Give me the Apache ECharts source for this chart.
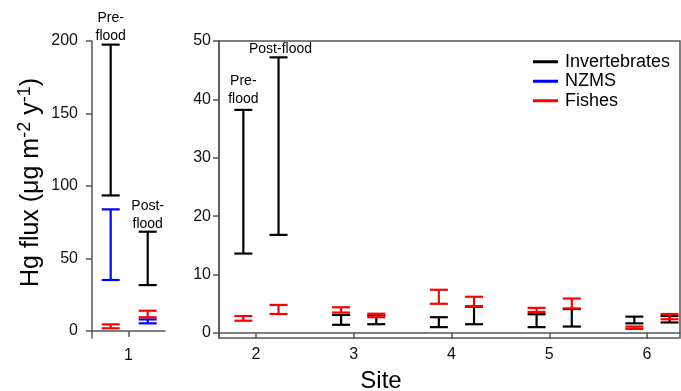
<!DOCTYPE html>
<html>
<head>
<meta charset="utf-8">
<script src="https://cdn.jsdelivr.net/npm/echarts@6/dist/echarts.min.js"></script>
<style>
  html, body { margin: 0; padding: 0; background: #fff; }
  #chart { width: 681px; height: 391px; }
</style>
</head>
<body>
<div id="chart"></div>
<script>
// sites (site 1 in the left panel, 2-6 in the right one)
const sites = [1, 2, 3, 4, 5, 6];

// Invertebrates, pre- and post-flood ranges
const invPreLow   = [93.5, 13.6, 1.4, 1.0, 1.0, 1.65];
const invPreHigh  = [197.5, 38.2, 3.1, 2.7, 3.2, 2.8];
const invPostLow  = [31.7, 16.8, 1.5, 1.5, 1.1, 1.8];
const invPostHigh = [68.5, 47.2, 3.0, 4.5, 4.1, 2.9];

// NZMS, site 1 only
const nzmsPreLow   = [35.2];
const nzmsPreHigh  = [83.9];
const nzmsPostLow  = [5.3];
const nzmsPostHigh = [8.0];

// Fishes
const fishPreLow   = [1.9, 2.1, 3.5, 5.0, 3.6, 0.7];
const fishPreHigh  = [4.6, 2.9, 4.4, 7.4, 4.3, 1.1];
const fishPostLow  = [9.5, 3.25, 2.7, 4.6, 4.2, 2.35];
const fishPostHigh = [14, 4.8, 3.3, 6.2, 5.9, 3.25];

// tick labels
const leftTicks = [0, 50, 100, 150, 200];
const rightTicks = [0, 10, 20, 30, 40, 50];
const siteTicks = [2, 3, 4, 5, 6];

const FONT = 'Liberation Sans, Arial, sans-serif';
const AXIS_COLOR = '#555';

// pre/post horizontal shift per panel
const shift = [
  { pre: -0.244, post: 0.263 },
  { pre: -0.13, post: 0.23 }
];

function errBar(color) {
  return function (params, api) {
    const x = api.value(0);
    const lo = api.coord([x, api.value(1)]);
    const hi = api.coord([x, api.value(2)]);
    const w = 9;
    const st = { stroke: color, lineWidth: 2.2 };
    return {
      type: 'group',
      children: [
        { type: 'line', shape: { x1: lo[0], y1: lo[1], x2: hi[0], y2: hi[1] }, style: st },
        { type: 'line', shape: { x1: hi[0] - w, y1: hi[1], x2: hi[0] + w, y2: hi[1] }, style: st },
        { type: 'line', shape: { x1: lo[0] - w, y1: lo[1], x2: lo[0] + w, y2: lo[1] }, style: st }
      ]
    };
  };
}

function makeData(panel, lows, highs, when) {
  const out = [];
  lows.forEach(function (v, i) {
    const s = sites[i];
    const p = s === 1 ? 0 : 1;
    if (p !== panel) return;
    out.push([s + shift[p][when], v, highs[i]]);
  });
  return out;
}

const taxa = [
  { name: 'Invertebrates', color: '#000000', pre: [invPreLow, invPreHigh], post: [invPostLow, invPostHigh] },
  { name: 'NZMS', color: '#0000ff', pre: [nzmsPreLow, nzmsPreHigh], post: [nzmsPostLow, nzmsPostHigh] },
  { name: 'Fishes', color: '#ff0000', pre: [fishPreLow, fishPreHigh], post: [fishPostLow, fishPostHigh] }
];

const series = [];
taxa.forEach(function (t) {
  [0, 1].forEach(function (panel) {
    const data = makeData(panel, t.pre[0], t.pre[1], 'pre')
      .concat(makeData(panel, t.post[0], t.post[1], 'post'));
    series.push({
      name: t.name,
      type: 'custom',
      xAxisIndex: panel,
      yAxisIndex: panel,
      itemStyle: { color: t.color },
      renderItem: errBar(t.color),
      data: data,
      silent: true,
      animation: false
    });
  });
});

const axisLine = { show: true, lineStyle: { color: AXIS_COLOR, width: 1.5 } };
const axisTick = { show: true, length: 6, lineStyle: { color: AXIS_COLOR, width: 1.5 } };
const tickFont = { color: '#111', fontSize: 16, fontFamily: FONT };

const chart = echarts.init(document.getElementById('chart'));
chart.setOption({
  animation: false,
  textStyle: { fontFamily: FONT },
  grid: [
    { left: 92, top: 41, width: 73, height: 297, outerBoundsMode: 'none' },
    { left: 219, top: 41, width: 461, height: 297, outerBoundsMode: 'none',
      show: true, borderColor: AXIS_COLOR, borderWidth: 1.5, backgroundColor: 'transparent' }
  ],
  xAxis: [
    { type: 'value', gridIndex: 0, min: 0.5, max: 1.5,
      axisLine: axisLine, axisTick: Object.assign({ customValues: [1] }, axisTick),
      axisLabel: Object.assign({ customValues: [1], margin: 10 }, tickFont),
      splitLine: { show: false } },
    { type: 'value', gridIndex: 1, min: 1.621, max: 6.337,
      axisLine: axisLine, axisTick: Object.assign({ customValues: siteTicks }, axisTick),
      axisLabel: Object.assign({ customValues: siteTicks, margin: 9 }, tickFont),
      splitLine: { show: false } }
  ],
  yAxis: [
    { type: 'value', gridIndex: 0, min: -4.8, max: 200,
      axisLine: axisLine, axisTick: Object.assign({ customValues: leftTicks }, axisTick),
      axisLabel: Object.assign({ customValues: leftTicks, margin: 14 }, tickFont),
      splitLine: { show: false },
      name: '{b|Hg flux (μg m}{s|-2}{b| y}{s|-1}{b|)}',
      nameLocation: 'middle', nameRotate: 90, nameGap: 46,
      nameTextStyle: {
        padding: [0, 0, 0, 14],
        rich: {
          b: { fontSize: 25, lineHeight: 30, color: '#000', fontFamily: FONT },
          s: { fontSize: 18, lineHeight: 18, verticalAlign: 'top', color: '#000', fontFamily: FONT }
        }
      } },
    { type: 'value', gridIndex: 1, min: -0.86, max: 50,
      axisLine: axisLine, axisTick: Object.assign({ customValues: rightTicks }, axisTick),
      axisLabel: Object.assign({ customValues: rightTicks, margin: 8 }, tickFont),
      splitLine: { show: false } }
  ],
  legend: {
    orient: 'vertical', left: 528, top: 47,
    itemWidth: 25, itemHeight: 3, itemGap: 0, icon: 'rect',
    textStyle: { fontSize: 18, lineHeight: 19.5, color: '#000', fontFamily: FONT, padding: [0, 0, 0, 2] },
    selectedMode: false,
    data: taxa.map(function (t) { return { name: t.name, itemStyle: { color: t.color } }; })
  },
  series: series
});

// annotations over the tallest bars, anchored at their top caps
function note(panel, x, y, text, dy) {
  const p = chart.convertToPixel({ xAxisIndex: panel, yAxisIndex: panel }, [x, y]);
  return {
    type: 'text', x: p[0], y: p[1] + dy, silent: true,
    style: { text: text, fill: '#000', font: '14px ' + FONT, lineHeight: 18,
             align: 'center', verticalAlign: 'bottom' }
  };
}

chart.setOption({
  graphic: [
    note(0, 1 + shift[0].pre, invPreHigh[0], 'Pre-\nflood', 1),
    note(0, 1 + shift[0].post, invPostHigh[0], 'Post-\nflood', 1),
    note(1, 2 + shift[1].pre, invPreHigh[1], 'Pre-\nflood', -2),
    note(1, 2 + shift[1].post + 0.02, invPostHigh[1], 'Post-flood', 1),
    { type: 'text', x: 381, y: 381, silent: true,
      style: { text: 'Site', fill: '#000', font: '24px ' + FONT, align: 'center', verticalAlign: 'middle' } }
  ]
});
</script>
</body>
</html>
